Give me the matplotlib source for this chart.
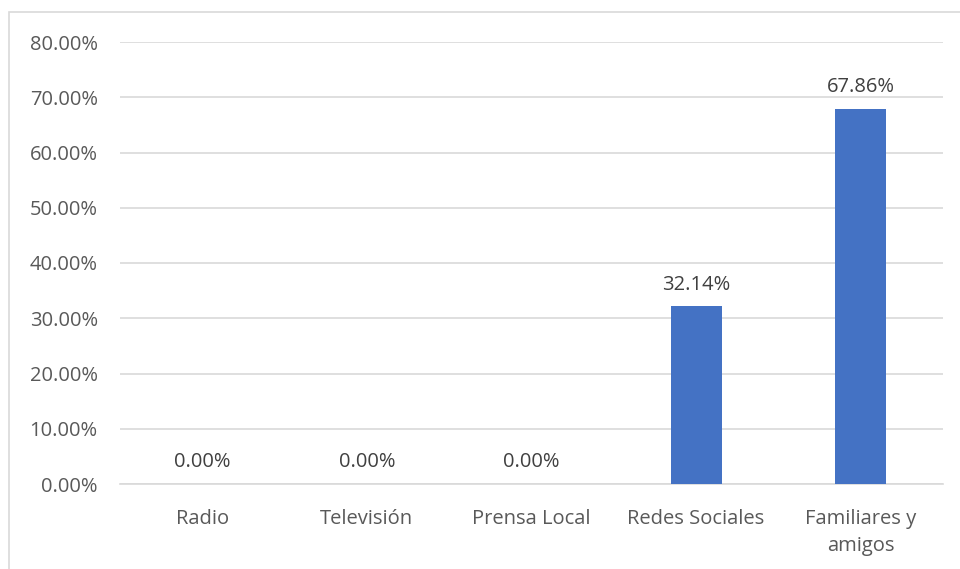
import matplotlib.pyplot as plt
from matplotlib.patches import Rectangle
from matplotlib.ticker import FuncFormatter

categorias = ['Radio', 'Televisión', 'Prensa Local', 'Redes Sociales', 'Familiares y\namigos']
porcentajes = [0.00, 0.00, 0.00, 32.14, 67.86]
ticks_y = [0, 10, 20, 30, 40, 50, 60, 70, 80]

plt.rcParams['font.family'] = ['Open Sans', 'DejaVu Sans']

fig = plt.figure(figsize=(9.6, 5.69), dpi=100)
ax = fig.add_axes([120 / 960, 1 - 484 / 569, (943 - 120) / 960, (484 - 42) / 569])

# marco gris del área del gráfico
fig.patches.append(Rectangle((9 / 960, -0.1), 1.2, 1 - 12 / 569 + 0.1,
                             transform=fig.transFigure, fill=False,
                             edgecolor='#d9d9d9', linewidth=1.2))

x = range(len(categorias))
barras = ax.bar(x, porcentajes, width=0.31, color='#4472c4', zorder=3)

for xi, v in zip(x, porcentajes):
    ax.annotate(f'{v:.2f}%', (xi, v), xytext=(0, 8.5), textcoords='offset points',
                ha='center', va='bottom', fontsize=14.5, color='#404040')

ax.set_xlim(-0.5, len(categorias) - 0.5)
ax.set_ylim(0, 80)
ax.set_yticks(ticks_y)
ax.yaxis.set_major_formatter(FuncFormatter(lambda v, p: f'{v:.2f}%'))
ax.set_xticks(list(x))
ax.set_xticklabels(categorias, fontsize=14.5, color='#595959', linespacing=1.5)
ax.tick_params(axis='y', labelsize=14.5, labelcolor='#595959', length=0, pad=16)
ax.tick_params(axis='x', length=0, pad=18)
for lbl in ax.get_xticklabels():
    lbl.set_verticalalignment('top')

ax.grid(axis='y', color='#d9d9d9', linewidth=1.2, zorder=0)
for s in ['top', 'right', 'left']:
    ax.spines[s].set_visible(False)
ax.spines['bottom'].set_color('#d9d9d9')
ax.spines['bottom'].set_linewidth(1.2)

fig.savefig('out.png', dpi=100)
